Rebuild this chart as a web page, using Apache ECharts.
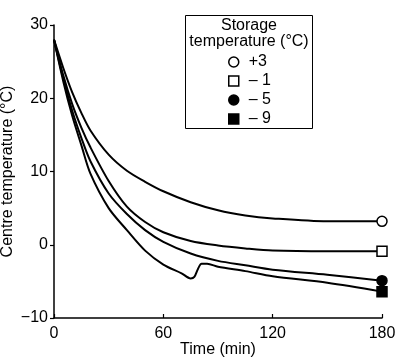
<!DOCTYPE html>
<html>
<head>
<meta charset="utf-8">
<script src="https://cdn.jsdelivr.net/npm/echarts@6/dist/echarts.min.js"></script>
<style>
  html, body { margin: 0; padding: 0; background: #fff; }
  #chart { width: 399px; height: 358px; }
</style>
</head>
<body>
<div id="chart"></div>
<script>
const minutes = [0, 5, 10, 15, 20, 30, 40, 50, 60, 75, 90, 105, 120, 150, 180];
const storePlus3 = [28, 24.2, 20.8, 18.0, 15.6, 12.3, 10.1, 8.6, 7.3, 5.8, 4.7, 4.0, 3.6, 3.2, 3.2];
const storeMinus1 = [28, 23.2, 19.2, 16.0, 13.3, 8.7, 5.2, 3.1, 1.7, 0.5, -0.1, -0.5, -0.8, -0.9, -0.9];
const storeMinus5 = [28, 22.8, 18.3, 14.6, 11.4, 7.0, 4.2, 2.0, 0.4, -1.2, -2.2, -2.8, -3.4, -4.1, -4.9];

const minutesM9 = [0, 5, 10, 15, 20, 30, 40, 50, 60, 70, 75, 77, 79, 81, 84, 90, 105, 120, 150, 180];
const storeMinus9 = [28, 22.4, 17.6, 13.6, 9.7, 5.0, 2.0, -0.8, -2.7, -3.9, -4.6, -4.4, -3.3, -2.6, -2.6, -3.0, -3.6, -4.3, -5.2, -6.4];

const seriesNames = ['+3', '\u2013 1', '\u2013 5', '\u2013 9'];
const yTicks = [-10, 0, 10, 20, 30];
const xTicks = [0, 60, 120, 180];

const FONT = 'Liberation Sans, Arial, Helvetica, sans-serif';

const markers = [
  { symbol: 'circle', color: '#fff' },
  { symbol: 'rect', color: '#fff' },
  { symbol: 'circle', color: '#000' },
  { symbol: 'rect', color: '#000' },
];

const buildData = (xs, ys, mk) =>
  xs.map((t, i) => {
    if (i === xs.length - 1) {
      return {
        value: [t, ys[i]],
        symbol: mk.symbol,
        symbolSize: 10,
        itemStyle: { color: mk.color, borderColor: '#000', borderWidth: 1.5 },
      };
    }
    return [t, ys[i]];
  });

const curves = [
  [minutes, storePlus3],
  [minutes, storeMinus1],
  [minutes, storeMinus5],
  [minutesM9, storeMinus9],
];

const minusSign = (v) => String(v).replace('-', '\u2212');

const chart = echarts.init(document.getElementById('chart'));

const option = {
  animation: false,
  textStyle: { fontFamily: FONT },
  grid: {
    left: 54,
    right: 17,
    top: 25,
    bottom: 40,
    containLabel: false,
    outerBoundsMode: 'none',
  },
  legend: {
    orient: 'vertical',
    left: 228,
    top: 54,
    padding: 0,
    itemGap: 3,
    itemWidth: 10,
    itemHeight: 10,
    selectedMode: false,
    textStyle: {
      fontFamily: FONT,
      fontSize: 16,
      lineHeight: 16,
      color: '#000',
      padding: [0, 0, 0, 5],
    },
    data: seriesNames.map((n, i) => ({
      name: n,
      icon: markers[i].symbol,
      itemStyle: { color: markers[i].color, borderColor: '#000', borderWidth: 1.5 },
    })),
  },
  graphic: [
    {
      type: 'rect',
      shape: { x: 185.5, y: 15.5, width: 127, height: 113 },
      style: { fill: 'transparent', stroke: '#000', lineWidth: 1 },
      z: 0,
    },
    {
      type: 'text',
      x: 249,
      y: 26,
      style: {
        text: 'Storage',
        font: '16px ' + FONT,
        fill: '#000',
        align: 'center',
        verticalAlign: 'middle',
      },
    },
    {
      type: 'text',
      x: 249,
      y: 42,
      style: {
        text: 'temperature (\u00b0C)',
        font: '16px ' + FONT,
        fill: '#000',
        align: 'center',
        verticalAlign: 'middle',
      },
    },
  ],
  xAxis: {
    type: 'value',
    min: 0,
    max: 180,
    interval: 60,
    name: 'Time (min)',
    nameLocation: 'middle',
    nameGap: 24,
    nameMoveOverlap: false,
    nameTextStyle: { fontFamily: FONT, fontSize: 16, color: '#000' },
    axisLine: { onZero: false, lineStyle: { color: '#000', width: 1.5 } },
    axisTick: { inside: true, length: 4, lineStyle: { color: '#000', width: 1.2 } },
    axisLabel: {
      fontFamily: FONT,
      fontSize: 16,
      color: '#000',
      margin: 8,
      customValues: xTicks,
    },
    splitLine: { show: false },
  },
  yAxis: {
    type: 'value',
    min: -10,
    max: 30,
    interval: 10,
    name: 'Centre temperature (\u00b0C)',
    nameLocation: 'middle',
    nameGap: 38,
    nameMoveOverlap: false,
    nameTextStyle: { fontFamily: FONT, fontSize: 16, color: '#000' },
    axisLine: { show: true, onZero: false, lineStyle: { color: '#000', width: 1.5 } },
    axisTick: { show: true, length: 4, lineStyle: { color: '#000', width: 1.2 } },
    axisLabel: {
      fontFamily: FONT,
      fontSize: 16,
      color: '#000',
      margin: 6,
      customValues: yTicks,
      formatter: minusSign,
    },
    splitLine: { show: false },
  },
  series: curves.map(([xs, ys], i) => ({
    name: seriesNames[i],
    type: 'line',
    smooth: 0.3,
    symbol: 'none',
    showSymbol: true,
    showAllSymbol: true,
    lineStyle: { color: '#000', width: 2 },
    itemStyle: { color: markers[i].color, borderColor: '#000', borderWidth: 1.5 },
    data: buildData(xs, ys, markers[i]),
    z: 3,
  })),
};

chart.setOption(option);

window.addEventListener('resize', () => chart.resize());
</script>
</body>
</html>
